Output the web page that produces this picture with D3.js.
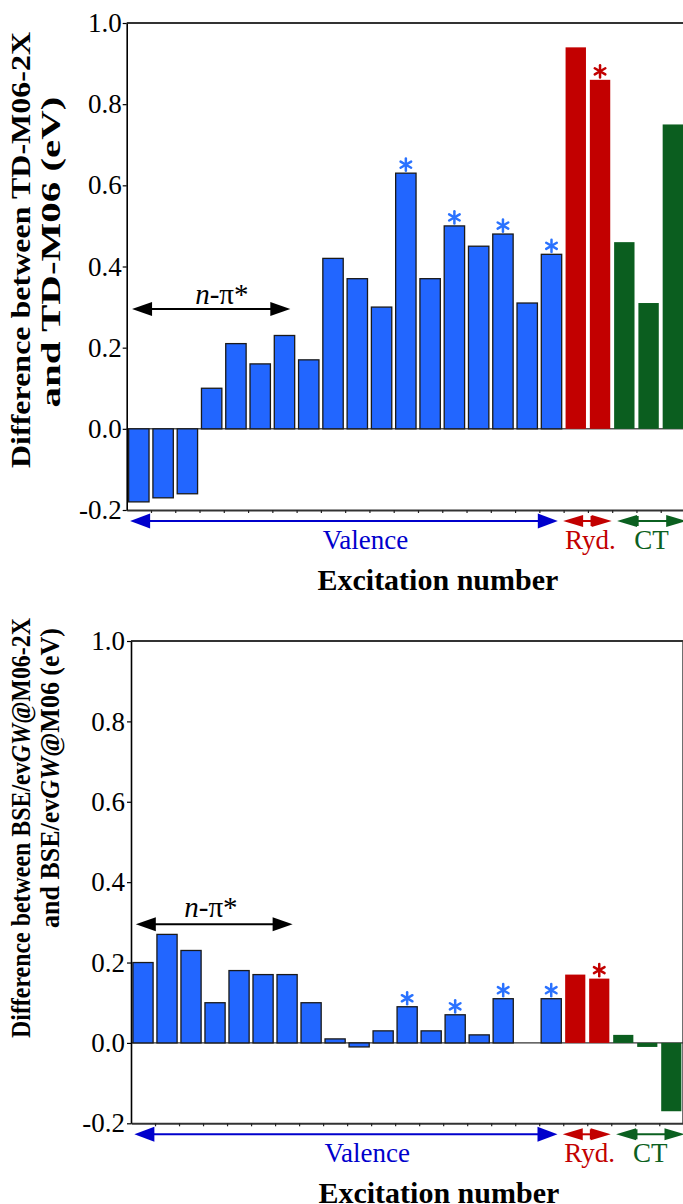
<!DOCTYPE html>
<html>
<head>
<meta charset="utf-8">
<script src="https://cdn.jsdelivr.net/npm/d3@7"></script>
<style>
  body { margin: 0; background: #fff; }
  svg { display: block; }
  text { font-family: 'Liberation Serif', 'Times New Roman', serif; }
</style>
</head>
<body>
<svg width="683" height="1204"></svg>
<script>
// excitation numbers and their type
const excitations = [1, 2, 3, 4, 5, 6, 7, 8, 9, 10, 11, 12, 13, 14, 15, 16, 17, 18, 19, 20, 21, 22, 23];
const kinds = ['val', 'val', 'val', 'val', 'val', 'val', 'val', 'val', 'val', 'val', 'val', 'val',
  'val', 'val', 'val', 'val', 'val', 'val', 'ryd', 'ryd', 'ct', 'ct', 'ct'];

// TD-M06-2X minus TD-M06 (eV)
const tdValues = [-0.18, -0.17, -0.16, 0.10, 0.21, 0.16, 0.23, 0.17, 0.42, 0.37, 0.30, 0.63,
  0.37, 0.50, 0.45, 0.48, 0.31, 0.43, 0.94, 0.86, 0.46, 0.31, 0.75];
// BSE/evGW@M06-2X minus BSE/evGW@M06 (eV)
const bseValues = [0.20, 0.27, 0.23, 0.10, 0.18, 0.17, 0.17, 0.10, 0.01, -0.01, 0.03, 0.09,
  0.03, 0.07, 0.02, 0.11, 0.00, 0.11, 0.17, 0.16, 0.02, -0.01, -0.17];

const starred = [12, 14, 16, 18, 20];
const yTicks = [-0.2, 0.0, 0.2, 0.4, 0.6, 0.8, 1.0];

const barColors = {val: '#2266ff', ryd: '#c20000', ct: '#0b5e1f'};
const groupColors = {val: '#0000cc', ryd: '#c20000', ct: '#0b6020'};

const svg = d3.select('svg');

// arrowed line, optional small vertical mark
function arrow(g, x1, x2, y, color, headLen, headH, mark) {
  g.append('line')
    .attr('x1', x1 + headLen - 2).attr('x2', x2 - headLen + 2)
    .attr('y1', y).attr('y2', y)
    .attr('stroke', color).attr('stroke-width', 2);
  g.append('path')
    .attr('d', `M${x1},${y}L${x1 + headLen},${y - headH / 2}L${x1 + headLen},${y + headH / 2}Z`)
    .attr('fill', color);
  g.append('path')
    .attr('d', `M${x2},${y}L${x2 - headLen},${y - headH / 2}L${x2 - headLen},${y + headH / 2}Z`)
    .attr('fill', color);
  if (mark != null) {
    g.append('line')
      .attr('x1', mark).attr('x2', mark)
      .attr('y1', y - headH / 2 + 1).attr('y2', y + headH / 2 - 1)
      .attr('stroke', color).attr('stroke-width', 2);
  }
}

function drawPanel(p) {
  const g = svg.append('g');

  const x = d3.scaleBand()
    .domain(excitations)
    .range([p.left, p.right])
    .paddingInner(0.16)
    .paddingOuter(0.08);
  const xb = d3.scaleLinear().domain([0, excitations.length]).range([p.left, p.right]);
  const y = d3.scaleLinear().domain([-0.2, 1.0]).range([p.bottom, p.top]);

  // zero line
  g.append('line')
    .attr('x1', p.left).attr('x2', p.right)
    .attr('y1', y(0)).attr('y2', y(0))
    .attr('stroke', '#000').attr('stroke-width', 1);

  // bars
  g.append('g')
    .selectAll('rect')
    .data(p.values)
    .join('rect')
    .attr('x', (d, i) => x(excitations[i]))
    .attr('y', (d) => y(Math.max(0, d)))
    .attr('width', x.bandwidth())
    .attr('height', (d) => Math.abs(y(d) - y(0)))
    .attr('fill', (d, i) => barColors[kinds[i]])
    .attr('stroke', (d, i) => (kinds[i] === 'val' ? '#1a1a1a' : 'none'))
    .attr('stroke-width', 1.3);

  // asterisks above selected bars
  const stars = g.append('g')
    .selectAll('g')
    .data(starred)
    .join('g')
    .attr('transform', (n) => {
      const i = excitations.indexOf(n);
      return `translate(${x(n) + x.bandwidth() / 2},${y(p.values[i]) - 8.5})`;
    })
    .attr('stroke', (n) => (kinds[excitations.indexOf(n)] === 'val' ? '#2a72ff' : '#c20000'))
    .attr('stroke-width', 2.5)
    .attr('stroke-linecap', 'round');
  [90, 30, -30].forEach((a) => {
    const r = 6.1;
    const dx = r * Math.cos((a * Math.PI) / 180);
    const dy = r * Math.sin((a * Math.PI) / 180);
    stars.append('line')
      .attr('x1', -dx).attr('y1', -dy)
      .attr('x2', dx).attr('y2', dy);
  });

  // frame: top and right
  g.append('line')
    .attr('x1', p.left).attr('x2', p.right)
    .attr('y1', p.top).attr('y2', p.top)
    .attr('stroke', '#333').attr('stroke-width', 2);
  g.append('line')
    .attr('x1', p.right).attr('x2', p.right)
    .attr('y1', p.top).attr('y2', p.bottom)
    .attr('stroke', '#333').attr('stroke-width', 2);

  // x axis with ticks at category boundaries
  const xAxis = g.append('g')
    .attr('transform', `translate(0,${p.bottom})`)
    .call(d3.axisBottom(xb)
      .tickValues(d3.range(1, excitations.length))
      .tickSize(3)
      .tickSizeOuter(0)
      .tickFormat(''));
  xAxis.select('.domain').attr('stroke', '#333').attr('stroke-width', 2);
  xAxis.selectAll('.tick line').attr('stroke', '#222').attr('stroke-width', 1.2);

  // y axis
  const yAxis = g.append('g')
    .attr('transform', `translate(${p.left},0)`)
    .call(d3.axisLeft(y)
      .tickValues(yTicks)
      .tickFormat((d) => d.toFixed(1))
      .tickSize(4)
      .tickSizeOuter(0)
      .tickPadding(p.tickPad));
  yAxis.select('.domain').attr('stroke', '#000').attr('stroke-width', 1.6);
  yAxis.selectAll('.tick line').attr('stroke', '#000').attr('stroke-width', 1.2);
  yAxis.selectAll('.tick text')
    .style('font-family', 'Liberation Serif')
    .style('font-size', '27px')
    .attr('fill', '#000');

  // n-pi* annotation
  const yN = y(0.295);
  arrow(g, xb(p.npiFrom), xb(p.npiTo), yN, '#000', 20, 14, null);
  const nt = g.append('text')
    .attr('x', xb(p.npiText))
    .attr('y', yN - p.npiGap)
    .attr('text-anchor', 'middle')
    .style('font-size', '29px')
    .attr('fill', '#000');
  nt.append('tspan').style('font-style', 'italic').text('n');
  nt.append('tspan').text('-π*');

  // excitation groups below axis
  const yA = p.bottom + 11;
  arrow(g, xb(0.14), xb(17.76), yA, groupColors.val, 20, 15, null);
  arrow(g, xb(17.98), xb(19.98), yA, groupColors.ryd, 20, 12, xb(19.15));
  arrow(g, xb(20.2), xb(23.05), yA, groupColors.ct, 20, 12, xb(21.05));

  const groupLabels = [
    {text: 'Valence', pos: 9.84, color: groupColors.val},
    {text: 'Ryd.', pos: 19.1, color: groupColors.ryd},
    {text: 'CT', pos: 21.62, color: groupColors.ct},
  ];
  g.append('g')
    .selectAll('text')
    .data(groupLabels)
    .join('text')
    .attr('x', (d) => xb(d.pos))
    .attr('y', p.bottom + 39)
    .attr('text-anchor', 'middle')
    .style('font-size', '27px')
    .attr('fill', (d) => d.color)
    .text((d) => d.text);

  g.append('text')
    .attr('x', xb(12.82))
    .attr('y', p.bottom + 80)
    .attr('text-anchor', 'middle')
    .style('font-size', '30px')
    .style('font-weight', 'bold')
    .attr('fill', '#000')
    .text('Excitation number');

  // rotated y-axis title, two lines
  p.title.forEach((line) => {
    const t = g.append('text')
      .attr('transform', `translate(${line.x},${line.cy}) rotate(-90)`)
      .attr('text-anchor', 'middle')
      .style('font-size', '28px')
      .style('font-weight', 'bold')
      .attr('fill', '#000')
      .attr('textLength', line.len)
      .attr('lengthAdjust', 'spacingAndGlyphs');
    line.parts.forEach(([s, it]) => {
      t.append('tspan').style('font-style', it ? 'italic' : 'normal').text(s);
    });
  });
}

drawPanel({
  left: 126.7, right: 685, top: 23, bottom: 510,
  values: tdValues,
  tickPad: 1,
  npiFrom: 0.22, npiTo: 6.74, npiText: 3.92, npiGap: 5,
  title: [
    {x: 29.5, cy: 250, len: 436, parts: [['Difference between TD-M06-2X', false]]},
    {x: 59.5, cy: 252, len: 311, parts: [['and TD-M06 (eV)', false]]},
  ],
});

drawPanel({
  left: 131, right: 683.3, top: 641, bottom: 1123.3,
  values: bseValues,
  tickPad: 2,
  npiFrom: 0.2, npiTo: 6.73, npiText: 3.33, npiGap: 7,
  title: [
    {x: 30, cy: 828, len: 420, parts: [['Difference between BSE/ev', false], ['GW', true], ['@M06-2X', false]]},
    {x: 59, cy: 778, len: 300, parts: [['and BSE/ev', false], ['GW', true], ['@M06 (eV)', false]]},
  ],
});
</script>
</body>
</html>
